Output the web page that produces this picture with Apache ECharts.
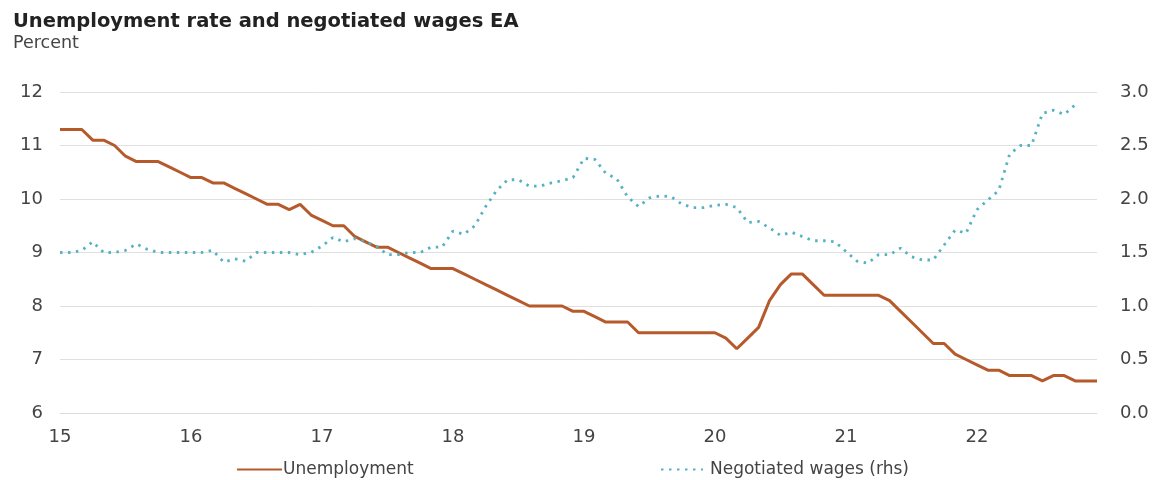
<!DOCTYPE html>
<html>
<head>
<meta charset="utf-8">
<script src="https://cdn.jsdelivr.net/npm/echarts@6/dist/echarts.min.js"></script>
<style>
html, body { margin: 0; padding: 0; background: #fff; }
#chart { width: 1158px; height: 480px; }
</style>
</head>
<body>
<div id="chart"></div>
<script>
// monthly, Jan 2015 - Dec 2022
var months = [];
for (var y = 15; y <= 22; y++) {
    for (var m = 1; m <= 12; m++) {
        months.push(y + '-' + m);
    }
}

var unemployment = [
    11.3, 11.3, 11.3, 11.1, 11.1, 11.0, 10.8, 10.7, 10.7, 10.7, 10.6, 10.5,
    10.4, 10.4, 10.3, 10.3, 10.2, 10.1, 10.0, 9.9, 9.9, 9.8, 9.9, 9.7,
    9.6, 9.5, 9.5, 9.3, 9.2, 9.1, 9.1, 9.0, 8.9, 8.8, 8.7, 8.7,
    8.7, 8.6, 8.5, 8.4, 8.3, 8.2, 8.1, 8.0, 8.0, 8.0, 8.0, 7.9,
    7.9, 7.8, 7.7, 7.7, 7.7, 7.5, 7.5, 7.5, 7.5, 7.5, 7.5, 7.5,
    7.5, 7.4, 7.2, 7.4, 7.6, 8.1, 8.4, 8.6, 8.6, 8.4, 8.2, 8.2,
    8.2, 8.2, 8.2, 8.2, 8.1, 7.9, 7.7, 7.5, 7.3, 7.3, 7.1, 7.0,
    6.9, 6.8, 6.8, 6.7, 6.7, 6.7, 6.6, 6.7, 6.7, 6.6, 6.6, 6.6
];

var wages = [
    1.50, 1.50, 1.52, 1.60, 1.50, 1.50, 1.52, 1.58, 1.53, 1.50, 1.50, 1.50,
    1.50, 1.50, 1.52, 1.41, 1.44, 1.42, 1.50, 1.50, 1.50, 1.50, 1.48, 1.50,
    1.56, 1.64, 1.60, 1.63, 1.60, 1.56, 1.48, 1.48, 1.50, 1.50, 1.55, 1.55,
    1.70, 1.67, 1.75, 1.93, 2.08, 2.18, 2.18, 2.12, 2.12, 2.15, 2.17, 2.20,
    2.38, 2.37, 2.24, 2.19, 2.02, 1.93, 2.01, 2.03, 2.02, 1.95, 1.92, 1.92,
    1.94, 1.95, 1.92, 1.78, 1.79, 1.73, 1.66, 1.69, 1.65, 1.61, 1.61, 1.60,
    1.51, 1.42, 1.40, 1.48, 1.48, 1.54, 1.46, 1.43, 1.43, 1.57, 1.71, 1.68,
    1.90, 1.99, 2.08, 2.42, 2.50, 2.50, 2.80, 2.83, 2.79, 2.88, null, null
];

var leftTicks = { min: 6, max: 12, interval: 1 };
var rightTicks = { min: 0, max: 3, interval: 0.5 };

var font = 'DejaVu Sans';
var brown = '#b65a2c';
var teal = '#54b2c4';

var myChart = echarts.init(document.getElementById('chart'));
option = {
    animation: false,
    textStyle: { fontFamily: font },
    title: {
        text: 'Unemployment rate and negotiated wages EA',
        subtext: 'Percent',
        left: 8,
        top: 7,
        itemGap: 2,
        textStyle: { fontSize: 19.5, fontWeight: 'bold', color: '#222', fontFamily: font },
        subtextStyle: { fontSize: 17.5, color: '#444', fontFamily: font }
    },
    legend: [
        {
            data: ['Unemployment'],
            left: 231,
            top: 456,
            itemWidth: 45,
            itemHeight: 12,
            itemStyle: { opacity: 0 },
            textStyle: { fontSize: 17, color: '#444', fontFamily: font, padding: [0, 0, 0, -4] }
        },
        {
            data: ['Negotiated wages (rhs)'],
            left: 655,
            top: 456,
            itemWidth: 42,
            itemHeight: 12,
            itemStyle: { opacity: 0 },
            textStyle: { fontSize: 17, color: '#444', fontFamily: font, padding: [0, 0, 0, 2] }
        }
    ],
    grid: { left: 60, right: 61, top: 92, bottom: 67 },
    xAxis: {
        type: 'category',
        data: months,
        boundaryGap: false,
        axisLine: { lineStyle: { color: '#ddd' } },
        axisTick: { show: false },
        axisLabel: {
            interval: function (i) { return i % 12 === 0; },
            formatter: function (v) { return v.split('-')[0]; },
            fontSize: 18,
            color: '#444',
            margin: 15
        },
        splitLine: { show: false }
    },
    yAxis: [
        {
            type: 'value',
            min: leftTicks.min,
            max: leftTicks.max,
            interval: leftTicks.interval,
            axisLine: { show: false },
            axisTick: { show: false },
            axisLabel: { fontSize: 18, color: '#444', margin: 17 },
            splitLine: { lineStyle: { color: '#e0e0e0', width: 1 } }
        },
        {
            type: 'value',
            min: rightTicks.min,
            max: rightTicks.max,
            interval: rightTicks.interval,
            axisLine: { show: false },
            axisTick: { show: false },
            axisLabel: {
                fontSize: 18,
                color: '#444',
                margin: 23,
                formatter: function (v) { return v.toFixed(1); }
            },
            splitLine: { show: false }
        }
    ],
    series: [
        {
            name: 'Unemployment',
            type: 'line',
            yAxisIndex: 0,
            data: unemployment,
            showSymbol: false,
            symbol: 'none',
            lineStyle: { color: brown, width: 3 },
            itemStyle: { color: brown }
        },
        {
            name: 'Negotiated wages (rhs)',
            type: 'line',
            yAxisIndex: 1,
            data: wages,
            showSymbol: false,
            symbol: 'none',
            lineStyle: { color: teal, width: 2.8, type: [2.5, 5.5] },
            itemStyle: { color: teal }
        }
    ]
};
myChart.setOption(option, true);
</script>
</body>
</html>
